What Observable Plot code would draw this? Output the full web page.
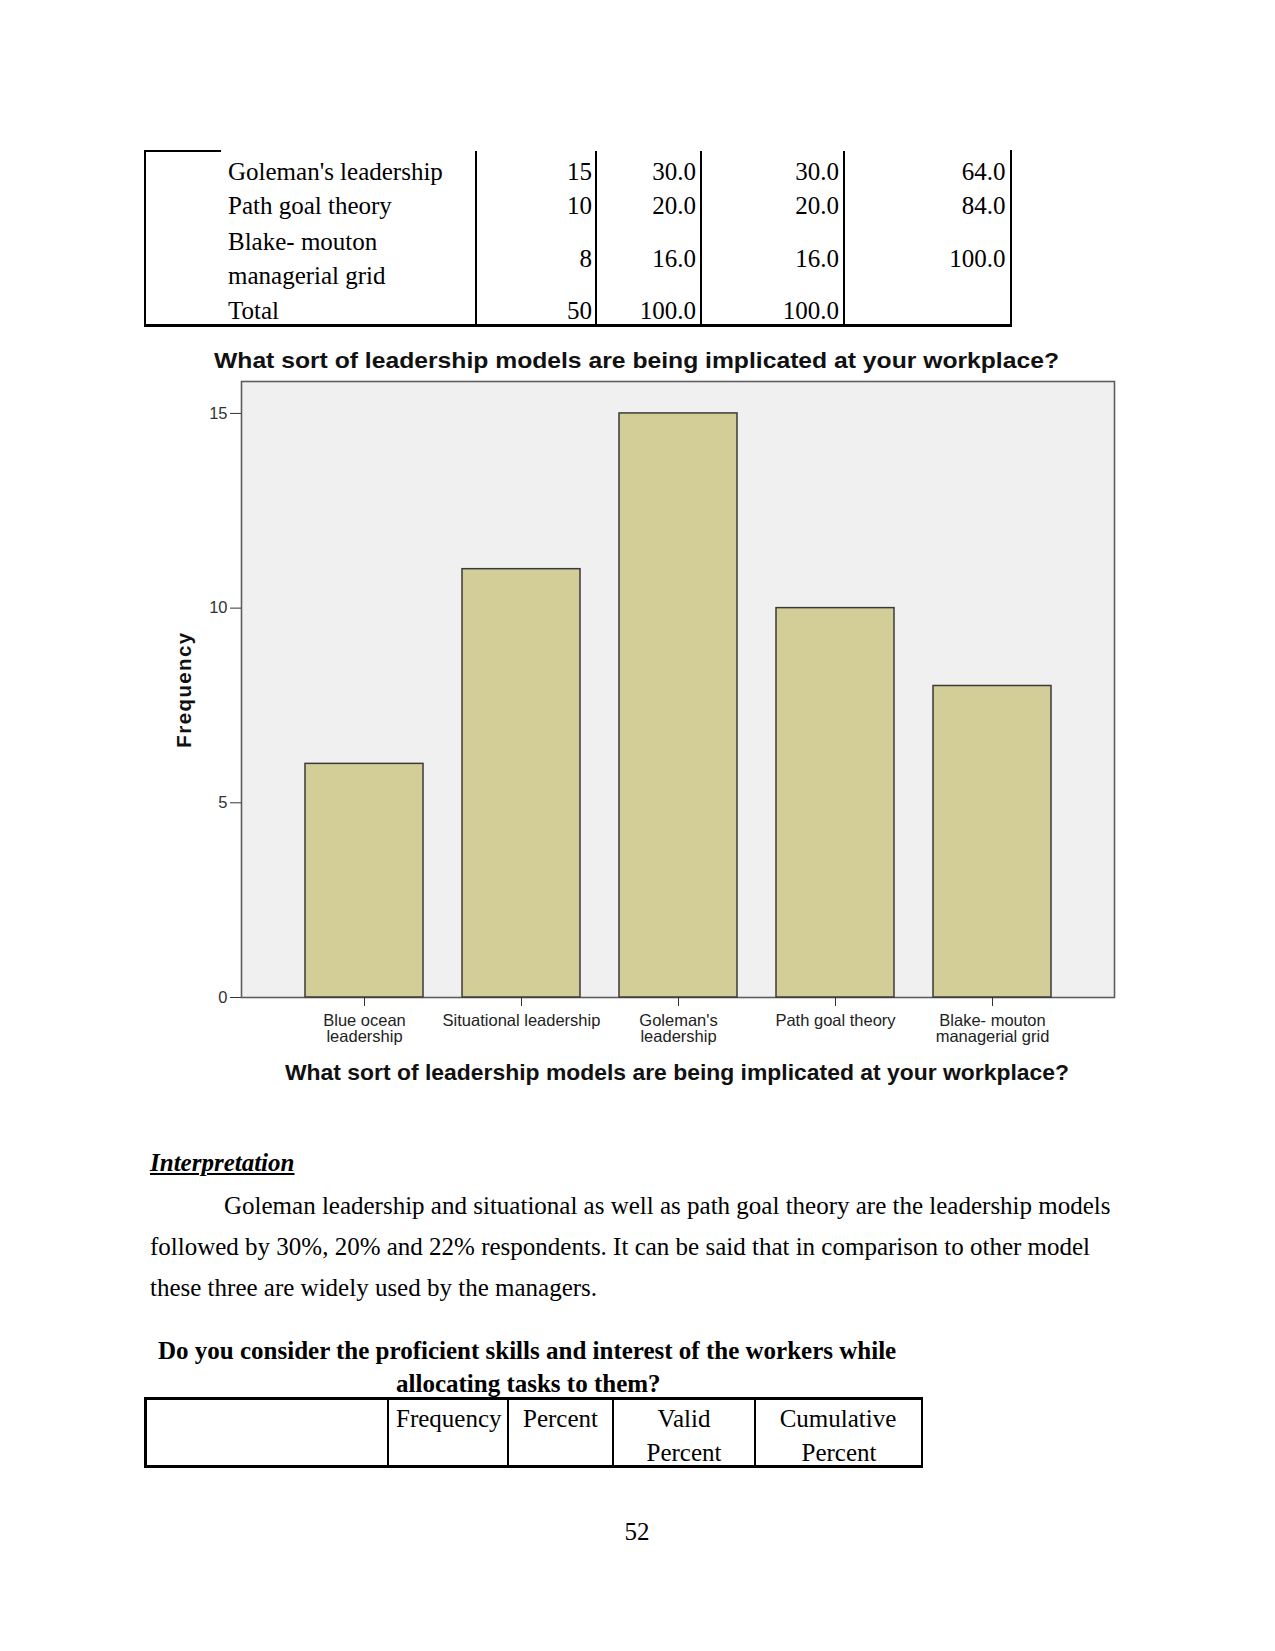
<!DOCTYPE html>
<html>
<head>
<meta charset="utf-8">
<script src="https://cdn.jsdelivr.net/npm/d3@7"></script>
<script src="https://cdn.jsdelivr.net/npm/@observablehq/plot@0.6"></script>
<style>
  body { margin: 0; background: #fff; }
  #page { position: relative; width: 1275px; height: 1651px; background: #fff; overflow: hidden;
          font-family: 'Liberation Serif', 'Times New Roman', serif; color: #000; }
  .t { position: absolute; white-space: nowrap; font-size: 25px; line-height: 25px; }
  .ln { position: absolute; background: #000; }
  .ct { position: absolute; white-space: nowrap; font-family: 'Liberation Sans', Arial, sans-serif;
        font-weight: bold; font-size: 22px; line-height: 22px; color: #111; transform-origin: left center; }
  #chart { position: absolute; left: 140px; top: 378px; }
</style>
</head>
<body>
<div id="page"></div>
<script>
// ---------- chart data ----------
const categories = ["Blue ocean leadership", "Situational leadership", "Goleman's leadership", "Path goal theory", "Blake- mouton managerial grid"];
const frequencies = [6, 11, 15, 10, 8];
const tickLabels = ["Blue ocean\nleadership", "Situational leadership", "Goleman's\nleadership", "Path goal theory", "Blake- mouton\nmanagerial grid"];
const yTicks = [0, 5, 10, 15];
const chartTitle = "What sort of leadership models are being implicated at your workplace?";
const yLabel = "Frequency";

// ---------- table (top, continued) ----------
const tableLabels = ["Goleman's leadership", "Path goal theory", "Blake- mouton\nmanagerial grid", "Total"];
const tableFrequency = ["15", "10", "8", "50"];
const tablePercent = ["30.0", "20.0", "16.0", "100.0"];
const tableValid = ["30.0", "20.0", "16.0", "100.0"];
const tableCumulative = ["64.0", "84.0", "100.0", ""];

// ---------- text ----------
const interpretationHeading = "Interpretation";
const interpretationLines = [
  "Goleman leadership and situational as well as path goal theory are the leadership models",
  "followed by 30%, 20% and 22% respondents. It can be said that in comparison to other model",
  "these three are widely used by the managers."
];
const table2TitleLines = ["Do you consider the proficient skills and interest of the workers while", "allocating tasks to them?"];
const table2Headers = ["Frequency", "Percent", "Valid\nPercent", "Cumulative\nPercent"];
const pageNumber = "52";

const page = document.getElementById("page");

function text(str, x, cy, align = "left", extra = {}) {
  const d = document.createElement("div");
  d.className = "t";
  d.textContent = str;
  d.style.top = (cy - 13) + "px";
  if (align === "left") d.style.left = x + "px";
  else if (align === "right") d.style.right = (1275 - x) + "px";
  else { d.style.left = x + "px"; d.style.transform = "translateX(-50%)"; }
  Object.assign(d.style, extra);
  page.appendChild(d);
  return d;
}
function line(x, y, w, h) {
  const d = document.createElement("div");
  d.className = "ln";
  Object.assign(d.style, { left: x + "px", top: y + "px", width: w + "px", height: h + "px" });
  page.appendChild(d);
}

// ----- Table 1 -----
line(144, 150, 77, 2);
line(144, 150, 2, 176);
line(144, 324, 868, 2.5);
line(1010, 150, 2, 176);
[475, 595, 700, 843].forEach(x => line(x, 151, 1.6, 174));
const rowCy = [172, 206, 259, 311];
tableLabels.forEach((lab, i) => {
  const parts = lab.split("\n");
  if (parts.length === 1) text(lab, 228, rowCy[i]);
  else { text(parts[0], 228, 242); text(parts[1], 228, 276); }
  text(tableFrequency[i], 592, rowCy[i], "right");
  text(tablePercent[i], 696, rowCy[i], "right");
  text(tableValid[i], 839, rowCy[i], "right");
  if (tableCumulative[i]) text(tableCumulative[i], 1005.5, rowCy[i], "right");
});

// ----- Chart titles (HTML, fitted to width) -----
function chartText(str, left, width, cy) {
  const d = document.createElement("div");
  d.className = "ct";
  d.textContent = str;
  d.style.left = left + "px";
  d.style.top = (cy - 11) + "px";
  page.appendChild(d);
  const w = d.getBoundingClientRect().width;
  d.style.transform = `scaleX(${width / w})`;
}
chartText(chartTitle, 214, 845, 361);
chartText(chartTitle, 285, 784, 1073);

// ----- Chart -----
const data = categories.map((c, i) => ({ category: c, frequency: frequencies[i] }));
const chart = Plot.plot({
  width: 1000,
  height: 674,
  marginLeft: 101,
  marginRight: 26,
  marginTop: 3,
  marginBottom: 55,
  style: { fontFamily: "'Liberation Sans', Arial, sans-serif", fontSize: "16px", color: "#1a1a1a", background: "transparent", overflow: "visible" },
  x: { domain: categories, paddingInner: 0.25, paddingOuter: 0.39 },
  y: { domain: [0, 15.82] },
  marks: [
    Plot.frame({ fill: "#f0f0f0", stroke: "#5e5e5e", strokeWidth: 1.6 }),
    Plot.barY(data, { x: "category", y: "frequency", fill: "#d3ce97", stroke: "#3a3a3a", strokeWidth: 1.5 }),
    Plot.axisY({ ticks: yTicks, tickSize: 11, tickPadding: 3, label: null, fontSize: 16.5, stroke: "#333", fill: "#333" }),
    Plot.axisX({ tickSize: 9, tickPadding: 8, label: null, fontSize: 16.5, lineHeight: 0.97,
                 tickFormat: d => tickLabels[categories.indexOf(d)], stroke: "#333", fill: "#222" }),
    Plot.text([yLabel], { frameAnchor: "left", dx: -57, rotate: -90, text: d => d, textAnchor: "middle",
                          fontWeight: "bold", fontSize: 20.5, fill: "#111" })
  ]
});
const holder = document.createElement("div");
holder.id = "chart";
holder.appendChild(chart);
page.appendChild(holder);
chart.querySelectorAll("text").forEach(t => { if (t.textContent === yLabel) t.style.letterSpacing = "1.4px"; });

// ----- Interpretation -----
text(interpretationHeading, 150, 1163, "left", { fontWeight: "bold", fontStyle: "italic", textDecoration: "underline" });
text(interpretationLines[0], 224, 1205.5);
text(interpretationLines[1], 150, 1246.5);
text(interpretationLines[2], 150, 1287.5);

// ----- Table 2 -----
text(table2TitleLines[0], 158, 1351, "left", { fontWeight: "bold" });
text(table2TitleLines[1], 396, 1383.5, "left", { fontWeight: "bold" });
line(144, 1397, 779, 2.5);
line(144, 1465, 779, 2.5);
line(144, 1397, 2.5, 70.5);
line(920.5, 1397, 2.5, 70.5);
[386.5, 506.5, 612, 754].forEach(x => line(x, 1397, 2, 70));
text("Frequency", 396, 1419);
text("Percent", 523, 1419);
const [v1, v2] = table2Headers[2].split("\n");
const [c1, c2] = table2Headers[3].split("\n");
text(v1, 684, 1419, "center");
text(v2, 684, 1453, "center");
text(c1, 838, 1419, "center");
text(c2, 839, 1453, "center");

// ----- Page number -----
text(pageNumber, 637, 1532, "center");
</script>
</body>
</html>
